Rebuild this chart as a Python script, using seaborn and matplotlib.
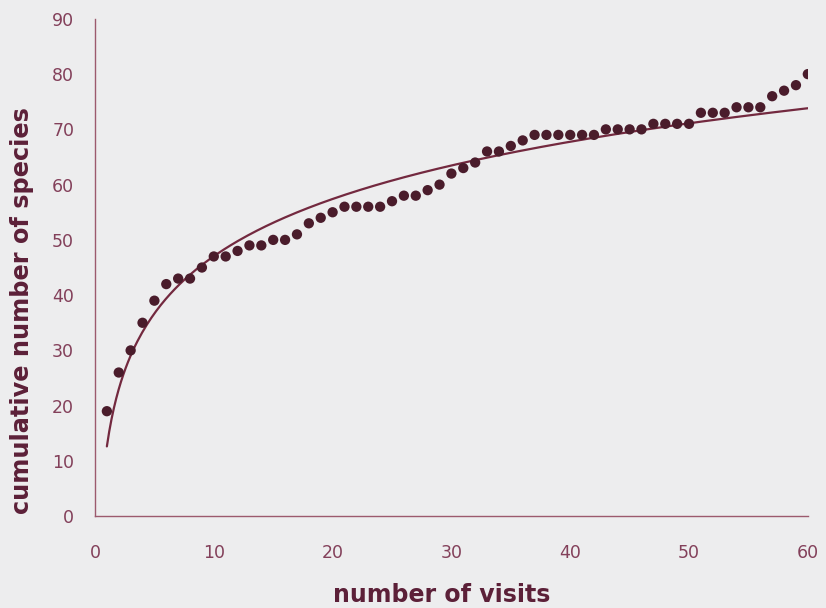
import numpy as np
import pandas as pd
import matplotlib
matplotlib.use("Agg")
import matplotlib.pyplot as plt
import seaborn as sns

# Species accumulation: cumulative species count after each visit
visits = list(range(1, 61))
species = [19, 26, 30, 35, 39, 42, 43, 43, 45, 47,
           47, 48, 49, 49, 50, 50, 51, 53, 54, 55,
           56, 56, 56, 56, 57, 58, 58, 59, 60, 62,
           63, 64, 66, 66, 67, 68, 69, 69, 69, 69,
           69, 69, 70, 70, 70, 70, 71, 71, 71, 71,
           73, 73, 73, 74, 74, 74, 76, 77, 78, 80]
x_ticks = [0, 10, 20, 30, 40, 50, 60]
y_ticks = [0, 10, 20, 30, 40, 50, 60, 70, 80, 90]

df = pd.DataFrame({"visits": visits, "species": species})

# Logarithmic trend line fitted to the observations
slope, intercept = np.polyfit(np.log(df["visits"]), df["species"], 1)
fit_x = np.linspace(1, 60, 300)
fit = pd.DataFrame({"visits": fit_x, "species": slope * np.log(fit_x) + intercept})

bg = "#ededee"
axis_col = "#9c5a6e"
text_col = "#83405a"
label_col = "#5c2038"
dot_col = "#4a1c2b"
line_col = "#73293f"

sns.set_theme(style="white")
plt.rcParams["font.family"] = ["DejaVu Sans"]

fig = plt.figure(figsize=(8.26, 6.08), dpi=100, facecolor=bg)
ax = fig.add_axes([0.115, 0.151, 0.863, 0.818])
ax.set_facecolor(bg)

sns.lineplot(data=fit, x="visits", y="species", ax=ax, color=line_col,
             linewidth=1.6, zorder=2)
sns.scatterplot(data=df, x="visits", y="species", ax=ax, color=dot_col,
                s=55, edgecolor="none", zorder=3)

ax.set_xlim(0, 60)
ax.set_ylim(0, 90)
ax.set_xticks(x_ticks)
ax.set_yticks(y_ticks)

for side in ("top", "right"):
    ax.spines[side].set_visible(False)
for side in ("left", "bottom"):
    ax.spines[side].set_color(axis_col)
    ax.spines[side].set_linewidth(1.0)

ax.tick_params(axis="both", direction="out", length=5, width=1.0,
               color=axis_col, labelcolor=text_col, labelsize=12.5)
ax.tick_params(axis="x", pad=15)
ax.tick_params(axis="y", pad=10)

ax.set_xlabel("number of visits", fontsize=17, fontweight="bold",
              color=label_col)
ax.set_ylabel("cumulative number of species", fontsize=17.3,
              fontweight="bold", color=label_col)
ax.xaxis.label.set_verticalalignment("center")
ax.yaxis.label.set_verticalalignment("center")
ax.xaxis.set_label_coords(0.487, -0.158)
ax.yaxis.set_label_coords(-0.102, 0.414)

fig.savefig("out.png", dpi=100, facecolor=bg)
